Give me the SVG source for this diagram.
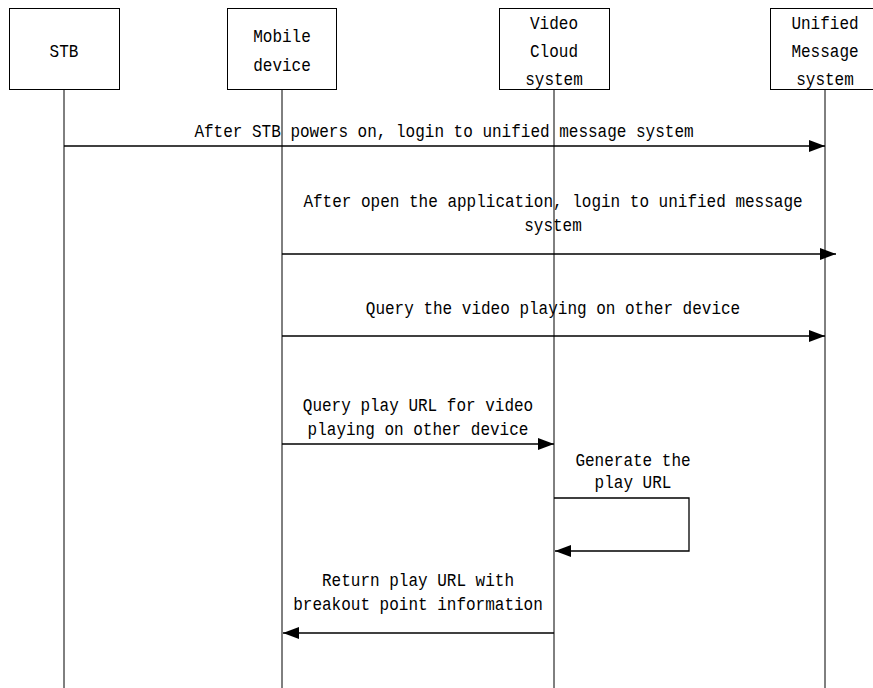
<svg xmlns="http://www.w3.org/2000/svg" width="873" height="688" viewBox="0 0 873 688">
<style>
.box{fill:#fff;stroke:#000;stroke-width:1}
.life{stroke:#000;stroke-width:1;fill:none}
.msg{stroke:#000;stroke-width:1.3;fill:none}
text{font-family:"Liberation Mono",monospace;font-size:18px;fill:#000;text-anchor:middle}
</style>
<defs>
<marker id="ah" markerWidth="16" markerHeight="12" refX="16" refY="6" orient="auto" markerUnits="userSpaceOnUse">
<path d="M0,0 L16,6 L0,12 Z" fill="#000"/>
</marker>
</defs>
<rect width="873" height="688" fill="#fff"/>
<g id="lifelines">
<line class="life" x1="64" y1="90" x2="64" y2="688"/>
<line class="life" x1="282" y1="90" x2="282" y2="688"/>
<line class="life" x1="554" y1="90" x2="554" y2="688"/>
<line class="life" x1="825" y1="90" x2="825" y2="688"/>
</g>
<g id="stb"><rect class="box" x="9.5" y="8.5" width="110" height="81"/><text transform="translate(64,57) scale(0.89,1)">STB</text></g>
<g id="mobile"><rect class="box" x="227.5" y="8.5" width="109" height="81"/><text transform="translate(282,42) scale(0.89,1)">Mobile</text><text transform="translate(282,71) scale(0.89,1)">device</text></g>
<g id="videocloud"><rect class="box" x="499.5" y="8.5" width="110" height="81"/><text transform="translate(554,29) scale(0.89,1)">Video</text><text transform="translate(554,57) scale(0.89,1)">Cloud</text><text transform="translate(554,85) scale(0.89,1)">system</text></g>
<g id="unified"><rect class="box" x="770.5" y="8.5" width="110" height="81"/><text transform="translate(825,29) scale(0.89,1)">Unified</text><text transform="translate(825,57) scale(0.89,1)">Message</text><text transform="translate(825,85) scale(0.89,1)">system</text></g>
<g id="connectors">
<line class="msg" x1="64" y1="146" x2="825" y2="146" marker-end="url(#ah)"/>
<line class="msg" x1="282" y1="254" x2="836" y2="254" marker-end="url(#ah)"/>
<line class="msg" x1="282" y1="336" x2="825" y2="336" marker-end="url(#ah)"/>
<line class="msg" x1="282" y1="444" x2="554" y2="444" marker-end="url(#ah)"/>
<polyline class="msg" points="554,498 689,498 689,551 555,551" marker-end="url(#ah)"/>
<line class="msg" x1="554" y1="633" x2="283" y2="633" marker-end="url(#ah)"/>
</g>
<g id="labels">
<text transform="translate(444,137) scale(0.89,1)">After STB powers on, login to unified message system</text>
<text transform="translate(553,207) scale(0.89,1)">After open the application, login to unified message</text>
<text transform="translate(553,231) scale(0.89,1)">system</text>
<text transform="translate(553,314) scale(0.89,1)">Query the video playing on other device</text>
<text transform="translate(418,411) scale(0.89,1)">Query play URL for video</text>
<text transform="translate(418,435) scale(0.89,1)">playing on other device</text>
<text transform="translate(633,466) scale(0.89,1)">Generate the</text>
<text transform="translate(633,488) scale(0.89,1)">play URL</text>
<text transform="translate(418,586) scale(0.89,1)">Return play URL with</text>
<text transform="translate(418,610) scale(0.89,1)">breakout point information</text>
</g>
</svg>
